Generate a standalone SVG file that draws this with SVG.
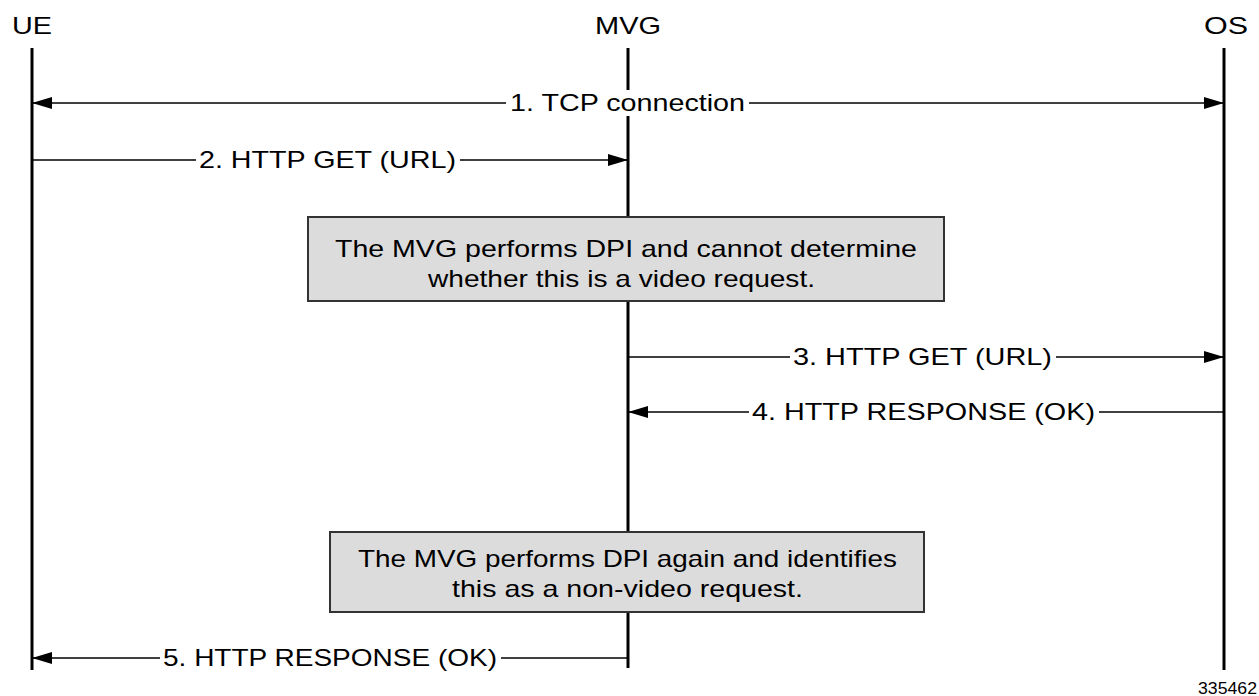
<svg xmlns="http://www.w3.org/2000/svg" width="1259" height="696" viewBox="0 0 1259 696">
  <defs>
    <style>
      .lbl { font-family: "Liberation Sans", Arial, sans-serif; font-size: 24px; fill: #000; }
      .life { stroke: #000; stroke-width: 3; fill: none; }
      .msg { stroke: #000; stroke-width: 1.6; fill: none; }
      .box { fill: #dcdcdc; stroke: #333; stroke-width: 2; }
      .num { font-family: "Liberation Sans", Arial, sans-serif; font-size: 17px; fill: #000; }
    </style>
    <marker id="ah" viewBox="0 0 20 12" refX="20" refY="6" markerWidth="20" markerHeight="12" markerUnits="userSpaceOnUse" orient="auto-start-reverse">
      <path d="M0,0 L20,6 L0,12 Z" fill="#000"/>
    </marker>
  </defs>
  <rect width="1259" height="696" fill="#fff"/>

  <g id="UE">
    <text class="lbl" x="12" y="34" textLength="40" lengthAdjust="spacingAndGlyphs">UE</text>
    <line class="life" x1="32" y1="48" x2="32" y2="670"/>
  </g>
  <g id="MVG">
    <text class="lbl" x="595" y="34" textLength="66" lengthAdjust="spacingAndGlyphs">MVG</text>
    <line class="life" x1="628" y1="48" x2="628" y2="668"/>
  </g>
  <g id="OS">
    <text class="lbl" x="1204" y="34" textLength="44" lengthAdjust="spacingAndGlyphs">OS</text>
    <line class="life" x1="1224" y1="48" x2="1224" y2="670"/>
  </g>

  <g id="note1">
    <rect class="box" x="308" y="217" width="636" height="84"/>
    <text class="lbl" x="335" y="257" textLength="582" lengthAdjust="spacingAndGlyphs">The MVG performs DPI and cannot determine</text>
    <text class="lbl" x="428" y="287" textLength="387" lengthAdjust="spacingAndGlyphs">whether this is a video request.</text>
  </g>
  <g id="note2">
    <rect class="box" x="330" y="532" width="594" height="80"/>
    <text class="lbl" x="358" y="567" textLength="539" lengthAdjust="spacingAndGlyphs">The MVG performs DPI again and identifies</text>
    <text class="lbl" x="452" y="597" textLength="351" lengthAdjust="spacingAndGlyphs">this as a non-video request.</text>
  </g>

  <g id="connectors">
    <line class="msg" x1="32" y1="103" x2="1224" y2="103" marker-start="url(#ah)" marker-end="url(#ah)"/>
    <rect x="506" y="90" width="243" height="26" fill="#fff"/>
    <text class="lbl" x="510" y="111" textLength="235" lengthAdjust="spacingAndGlyphs">1. TCP connection</text>

    <line class="msg" x1="32" y1="160" x2="628" y2="160" marker-end="url(#ah)"/>
    <rect x="196" y="147" width="264" height="26" fill="#fff"/>
    <text class="lbl" x="199" y="168" textLength="257" lengthAdjust="spacingAndGlyphs">2. HTTP GET (URL)</text>

    <line class="msg" x1="628" y1="357" x2="1224" y2="357" marker-end="url(#ah)"/>
    <rect x="790" y="344" width="266" height="26" fill="#fff"/>
    <text class="lbl" x="793" y="365" textLength="259" lengthAdjust="spacingAndGlyphs">3. HTTP GET (URL)</text>

    <line class="msg" x1="1224" y1="412" x2="628" y2="412" marker-end="url(#ah)"/>
    <rect x="749" y="399" width="350" height="26" fill="#fff"/>
    <text class="lbl" x="752" y="420" textLength="343" lengthAdjust="spacingAndGlyphs">4. HTTP RESPONSE (OK)</text>

    <line class="msg" x1="628" y1="658" x2="32" y2="658" marker-end="url(#ah)"/>
    <rect x="160" y="645" width="341" height="26" fill="#fff"/>
    <text class="lbl" x="163" y="666" textLength="334" lengthAdjust="spacingAndGlyphs">5. HTTP RESPONSE (OK)</text>
  </g>

  <text class="num" x="1198" y="694" textLength="59" lengthAdjust="spacingAndGlyphs">335462</text>
</svg>
